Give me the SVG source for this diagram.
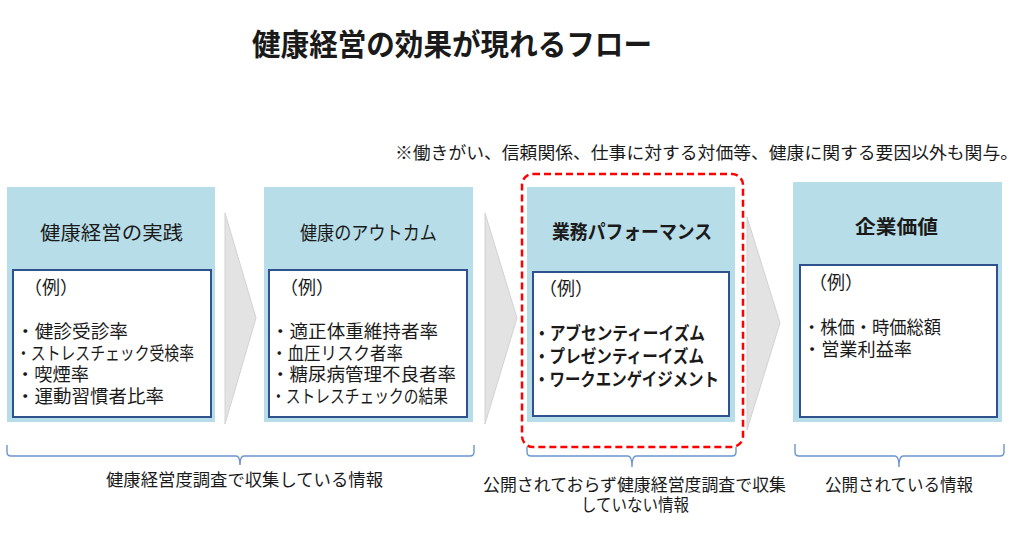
<svg xmlns="http://www.w3.org/2000/svg" width="1024" height="535" viewBox="0 0 1024 535">
<style>
text{font-family:"Noto Sans CJK JP","Noto Sans",sans-serif;fill:#1a1a1a}
.outer{fill:#b7dde8}
.inner{fill:#ffffff;stroke:#2f528f;stroke-width:2}
.ttl{font-size:19px}
.b{font-weight:bold}
.it{font-size:18px}
.chev{fill:#e3e3e3;stroke:#d2d2d2;stroke-width:1}
.brk{fill:none;stroke:#6a95cf;stroke-width:1.4}
.cap{font-size:17px}
</style>
<rect width="1024" height="535" fill="#ffffff"/>
<text x="252" y="55" font-size="30" font-weight="bold" textLength="400" lengthAdjust="spacingAndGlyphs" fill="#000">健康経営の効果が現れるフロー</text>
<text x="395" y="159" font-size="17" textLength="623" lengthAdjust="spacingAndGlyphs">※働きがい、信頼関係、仕事に対する対価等、健康に関する要因以外も関与。</text>

<g id="connectors">
<polygon class="chev" points="225,213 256,318 225,424"/>
<polygon class="chev" points="485,213 517,318 485,424"/>
<polygon class="chev" points="747,217 780,323 747,430"/>
</g>

<g id="node-practice">
<rect class="outer" x="7" y="187" width="208" height="235"/>
<text class="ttl" x="40" y="240" textLength="143" lengthAdjust="spacingAndGlyphs">健康経営の実践</text>
<rect class="inner" x="13" y="270" width="198" height="147"/>
<text class="it" x="24" y="294">（例）</text>
<text class="it" x="16" y="338" textLength="112" lengthAdjust="spacingAndGlyphs">・健診受診率</text>
<text class="it" x="16" y="360" textLength="178" lengthAdjust="spacingAndGlyphs">・ストレスチェック受検率</text>
<text class="it" x="16" y="381" textLength="73" lengthAdjust="spacingAndGlyphs">・喫煙率</text>
<text class="it" x="16" y="403" textLength="148" lengthAdjust="spacingAndGlyphs">・運動習慣者比率</text>
</g>

<g id="node-outcome">
<rect class="outer" x="264" y="187" width="209" height="235"/>
<text class="ttl" x="300" y="240" textLength="137" lengthAdjust="spacingAndGlyphs">健康のアウトカム</text>
<rect class="inner" x="269" y="270" width="198" height="147"/>
<text class="it" x="280" y="294">（例）</text>
<text class="it" x="271" y="338" textLength="167" lengthAdjust="spacingAndGlyphs">・適正体重維持者率</text>
<text class="it" x="271" y="360" textLength="132" lengthAdjust="spacingAndGlyphs">・血圧リスク者率</text>
<text class="it" x="271" y="381" textLength="185" lengthAdjust="spacingAndGlyphs">・糖尿病管理不良者率</text>
<text class="it" x="271" y="403" textLength="177" lengthAdjust="spacingAndGlyphs">・ストレスチェックの結果</text>
</g>

<g id="node-performance">
<rect class="outer" x="527" y="187" width="208" height="235"/>
<text class="ttl b" x="552" y="239" textLength="160" lengthAdjust="spacingAndGlyphs">業務パフォーマンス</text>
<rect class="inner" x="533" y="272" width="196" height="144"/>
<text class="it" x="539" y="295">（例）</text>
<text class="it b" x="534" y="340" textLength="171" lengthAdjust="spacingAndGlyphs">・アブセンティーイズム</text>
<text class="it b" x="534" y="363" textLength="170" lengthAdjust="spacingAndGlyphs">・プレゼンティーイズム</text>
<text class="it b" x="534" y="386" textLength="185" lengthAdjust="spacingAndGlyphs">・ワークエンゲイジメント</text>
<rect x="522" y="174" width="221" height="273" rx="11" fill="none" stroke="#ff0000" stroke-width="2.5" stroke-dasharray="7 4"/>
</g>

<g id="node-value">
<rect class="outer" x="793" y="182" width="209" height="240"/>
<text class="ttl b" x="855" y="234" font-size="20" textLength="83" lengthAdjust="spacingAndGlyphs">企業価値</text>
<rect class="inner" x="800" y="265" width="197" height="152"/>
<text class="it" x="809" y="289">（例）</text>
<text class="it" x="803" y="334" textLength="138" lengthAdjust="spacingAndGlyphs">・株価・時価総額</text>
<text class="it" x="803" y="356" textLength="109" lengthAdjust="spacingAndGlyphs">・営業利益率</text>
</g>

<g id="brackets">
<path class="brk" d="M7,445 V452 Q7,456 11,456 H236 Q240,456 240,465 Q240,456 244,456 H470 Q474,456 474,452 V445"/>
<path class="brk" d="M527,447 V452 Q527,456 531,456 H628 Q632,456 632,467 Q632,456 636,456 H732 Q736,456 736,452 V447"/>
<path class="brk" d="M795,444 V452 Q795,456 799,456 H895 Q899,456 899,467 Q899,456 903,456 H1000 Q1004,456 1004,452 V444"/>
<text class="cap" x="106" y="486" textLength="277" lengthAdjust="spacingAndGlyphs">健康経営度調査で収集している情報</text>
<text class="cap" x="483" y="491" textLength="303" lengthAdjust="spacingAndGlyphs">公開されておらず健康経営度調査で収集</text>
<text class="cap" x="581" y="511" textLength="108" lengthAdjust="spacingAndGlyphs">していない情報</text>
<text class="cap" x="825" y="491" textLength="148" lengthAdjust="spacingAndGlyphs">公開されている情報</text>
</g>
</svg>
